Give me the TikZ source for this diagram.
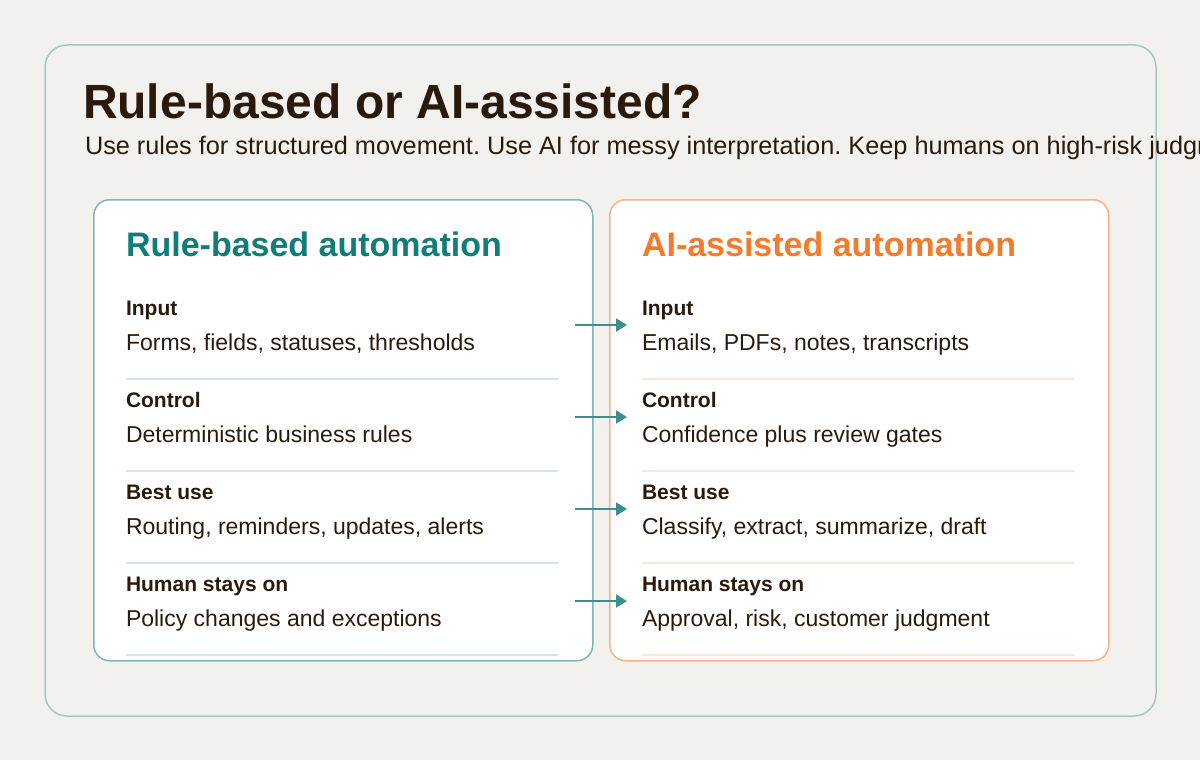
\documentclass[tikz,border=0pt]{standalone}
\usepackage{fontspec}
\setmainfont{Liberation Sans}
\usepackage{tikz}
\usetikzlibrary{arrows.meta,positioning,calc}
\usepackage{xcolor}

\definecolor{pagebg}{HTML}{F3F1ED}
\definecolor{frameline}{HTML}{A5C8C3}
\definecolor{ink}{HTML}{2A1A0C}
\definecolor{tealhead}{HTML}{107D79}
\definecolor{tealline}{HTML}{7DB6B4}
\definecolor{tealrule}{HTML}{D0E6E5}
\definecolor{orangehead}{HTML}{F47B2B}
\definecolor{orangeline}{HTML}{F4B48A}
\definecolor{orangerule}{HTML}{FCE4D4}
\definecolor{flowcol}{HTML}{3E8E8A}

\frenchspacing

\tikzset{
  txtbase/.style={anchor=base west, inner sep=0pt, outer sep=0pt, text=ink},
  lbl/.style={txtbase, font=\bfseries\fontsize{21}{25}\selectfont},
  body/.style={txtbase, font=\fontsize{23}{28}\selectfont},
  cardhead/.style={txtbase, font=\bfseries\fontsize{34}{40}\selectfont},
  card/.style={draw, line width=1.5pt, fill=white, rounded corners=16pt,
    minimum width=499pt, minimum height=461pt, anchor=north west, inner sep=0pt},
  flow/.style={-{Triangle[length=11pt,width=13pt]}, line width=2pt, draw=flowcol},
}

\begin{document}
\begin{tikzpicture}[x=1pt, y=-1pt]
    \useasboundingbox (0,0) rectangle (1200,760);
    \clip (0,0) rectangle (1200,760);
    \fill[pagebg] (0,0) rectangle (1200,760);

    % Outer frame
    \draw[frameline, line width=1.5pt, rounded corners=22pt] (45,45) rectangle (1156,716);

    % Title and subtitle
    \node[txtbase, font=\bfseries\fontsize{48}{56}\selectfont] (title) at (83,118) {Rule-based or AI-assisted?};
    \node[txtbase, font=\fontsize{25.3}{30}\selectfont] (subtitle) at (85,154)
        {Use rules for structured movement. Use AI for messy interpretation. Keep humans on high-risk judgment.};

    % Cards
    \node[card, draw=tealline] (ruleCard) at (93,199) {};
    \node[card, draw=orangeline] (aiCard) at (609,199) {};

    % Rule-based column
    \node[cardhead, text=tealhead] (ruleHead) at (126,256) {Rule-based automation};
    \node[lbl] (ruleInLbl) at (126,315) {Input};
    \node[body] (ruleInTxt) at (126,350) {Forms, fields, statuses, thresholds};
    \draw[tealrule, line width=2pt] (126,379) -- (558,379);
    \node[lbl] (ruleCtlLbl) at (126,407) {Control};
    \node[body] (ruleCtlTxt) at (126,442) {Deterministic business rules};
    \draw[tealrule, line width=2pt] (126,471) -- (558,471);
    \node[lbl] (ruleUseLbl) at (126,499) {Best use};
    \node[body] (ruleUseTxt) at (126,534) {Routing, reminders, updates, alerts};
    \draw[tealrule, line width=2pt] (126,563) -- (558,563);
    \node[lbl] (ruleHumLbl) at (126,591) {Human stays on};
    \node[body] (ruleHumTxt) at (126,626) {Policy changes and exceptions};
    \draw[tealrule, line width=2pt] (126,655) -- (558,655);

    % AI-assisted column
    \node[cardhead, text=orangehead] (aiHead) at (642,256) {AI-assisted automation};
    \node[lbl] (aiInLbl) at (642,315) {Input};
    \node[body] (aiInTxt) at (642,350) {Emails, PDFs, notes, transcripts};
    \draw[orangerule, line width=2pt] (642,379) -- (1074,379);
    \node[lbl] (aiCtlLbl) at (642,407) {Control};
    \node[body] (aiCtlTxt) at (642,442) {Confidence plus review gates};
    \draw[orangerule, line width=2pt] (642,471) -- (1074,471);
    \node[lbl] (aiUseLbl) at (642,499) {Best use};
    \node[body] (aiUseTxt) at (642,534) {Classify, extract, summarize, draft};
    \draw[orangerule, line width=2pt] (642,563) -- (1074,563);
    \node[lbl] (aiHumLbl) at (642,591) {Human stays on};
    \node[body] (aiHumTxt) at (642,626) {Approval, risk, customer judgment};
    \draw[orangerule, line width=2pt] (642,655) -- (1074,655);

    % Row arrows
    \coordinate (ruleIn) at (575,325);   \coordinate (aiIn) at (627,325);
    \coordinate (ruleCtl) at (575,417);  \coordinate (aiCtl) at (627,417);
    \coordinate (ruleUse) at (575,509);  \coordinate (aiUse) at (627,509);
    \coordinate (ruleHum) at (575,601);  \coordinate (aiHum) at (627,601);
    \draw[flow] (ruleIn) -- (aiIn);
    \draw[flow] (ruleCtl) -- (aiCtl);
    \draw[flow] (ruleUse) -- (aiUse);
    \draw[flow] (ruleHum) -- (aiHum);
\end{tikzpicture}
\end{document}
